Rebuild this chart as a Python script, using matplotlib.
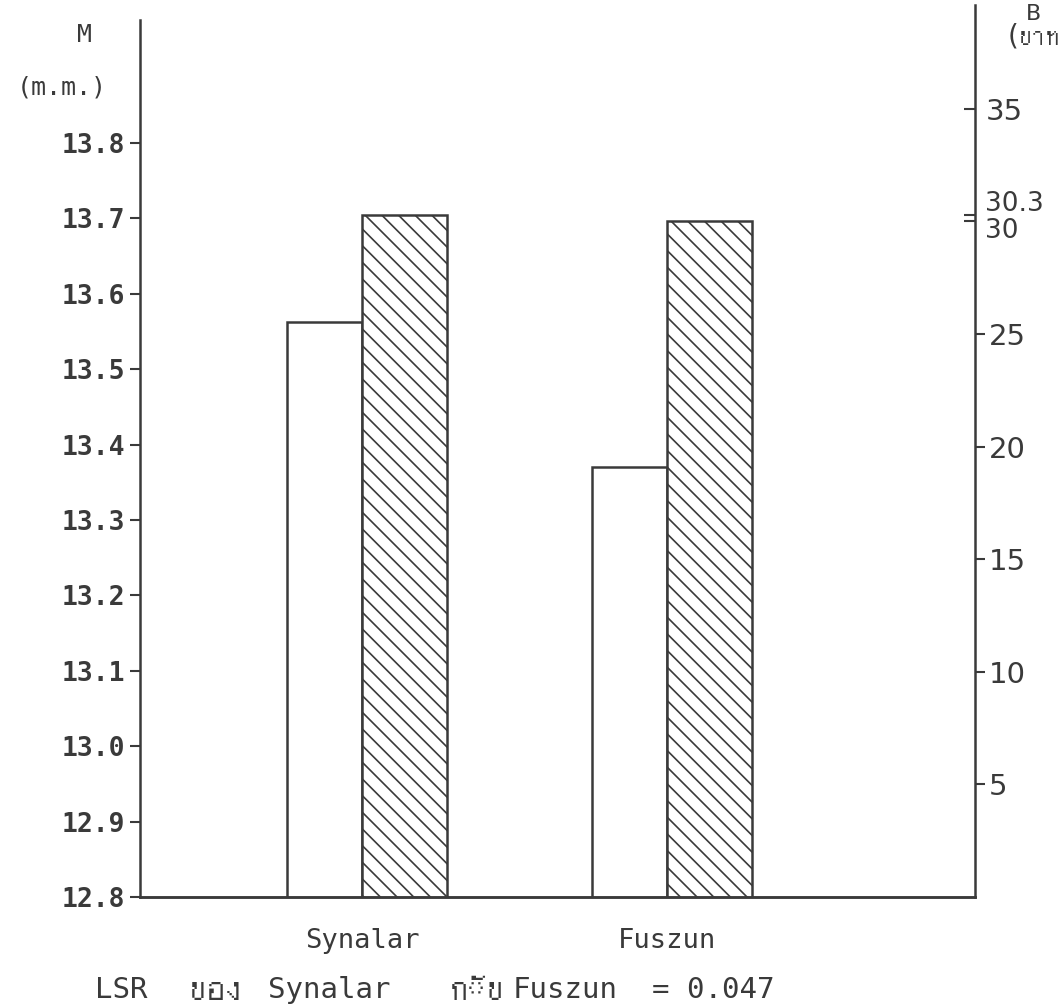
import numpy as np
import matplotlib
matplotlib.use('Agg')
import matplotlib.pyplot as plt
from matplotlib import font_manager
from matplotlib.ft2font import FT2Font

# data
groups = ['Synalar', 'Fuszun']
m_values = [13.563, 13.370]      # white bars, left axis (m.m.)
b_values = [30.3, 30.0]          # hatched bars, right axis (baht)
left_ticks = [12.8, 12.9, 13.0, 13.1, 13.2, 13.3, 13.4, 13.5, 13.6, 13.7, 13.8]
right_major = [30, 30.3, 35]
right_minor = [5, 10, 15, 20, 25]

# look for a font that has Thai glyphs
thai = None
for f in font_manager.findSystemFonts():
    try:
        if 0x0E02 in FT2Font(f).get_charmap():
            thai = font_manager.FontProperties(fname=f).get_name()
            break
    except Exception:
        pass
mono = ['DejaVu Sans Mono'] + ([thai] if thai else [])
hand = ['DejaVu Sans'] + ([thai] if thai else [])

ink = '#3a3a3a'
plt.rcParams['hatch.linewidth'] = 1.2
plt.rcParams['hatch.color'] = ink
fig = plt.figure(figsize=(10.63, 10.07), dpi=100)
ax = fig.add_axes([140 / 1063, 110 / 1007, 835 / 1063, 892 / 1007])
ax2 = ax.twinx()

x = np.arange(len(groups))
ax.bar(x, m_values, width=-0.245, align='edge',
       facecolor='white', edgecolor=ink, linewidth=1.8, zorder=2)
ax2.bar(x, b_values, width=0.28, align='edge',
        facecolor='white', edgecolor=ink, linewidth=1.8, hatch='\\\\', zorder=2)

ax.set_xlim(-0.728, 2.01)
ax.set_ylim(12.8, 12.8 + 892 / 754)
ax2.set_ylim(0, 892 / 22.52)

for a in (ax, ax2):
    for s in a.spines.values():
        s.set_color(ink)
        s.set_linewidth(1.8)
    a.spines['top'].set_visible(False)
ax.spines['left'].set_bounds(12.8, 13.963)
ax.spines['right'].set_visible(False)
ax2.spines['left'].set_visible(False)

ax.set_xticks(x)
ax.set_xticklabels(groups, family=mono, fontsize=19.5, color=ink)
ax.tick_params(axis='x', length=0, pad=22)

ax.set_yticks(left_ticks)
ax.set_yticklabels(['%.1f' % v for v in left_ticks], family=mono,
                   fontsize=19, fontweight='bold', color=ink)
ax.tick_params(axis='y', direction='out', length=7, width=1.5, color=ink, pad=4)

ax2.set_yticks(right_major)
ax2.set_yticklabels(['', '', '35'], family=hand, fontsize=21, color=ink)
ax2.set_yticks(right_minor, minor=True)
ax2.set_yticklabels([str(v) for v in right_minor], minor=True,
                    family=hand, fontsize=21, color=ink)
ax2.tick_params(axis='y', which='major', direction='in', length=8, width=1.5,
                color=ink, pad=8)
ax2.tick_params(axis='y', which='minor', direction='out', length=7, width=1.5,
                color=ink, pad=3)
ytr = ax2.get_yaxis_transform()
ax2.text(1.012, 30.2, '30.3', transform=ytr, family=hand, fontsize=19,
         color=ink, va='bottom', ha='left')
ax2.text(1.012, 30.15, '30', transform=ytr, family=hand, fontsize=19,
         color=ink, va='top', ha='left')

fig.text(85 / 1063, 1 - 35 / 1007, 'M', family=mono, fontsize=18,
         color=ink, ha='center', va='center')
fig.text(62 / 1063, 1 - 88 / 1007, '(m.m.)', family=mono, fontsize=18,
         color=ink, ha='center', va='center')
fig.text(1033 / 1063, 1 - 14 / 1007, 'B', family=hand, fontsize=16,
         color=ink, ha='center', va='center')
fig.text(1008 / 1063, 1 - 37 / 1007, '(บาท', family=hand, fontsize=20,
         color=ink, ha='left', va='center')

# footer line, words placed like the typed original
footer = [('LSR', 95, 21), ('ของ', 190, 26), ('Synalar', 268, 21),
          ('กับ', 450, 26), ('Fuszun', 513, 21), ('= 0.047', 652, 21)]
for word, px, fs in footer:
    fig.text(px / 1063, 1 - 990 / 1007, word, family=mono, fontsize=fs,
             color=ink, ha='left', va='center')

fig.savefig('out.png', dpi=100)
